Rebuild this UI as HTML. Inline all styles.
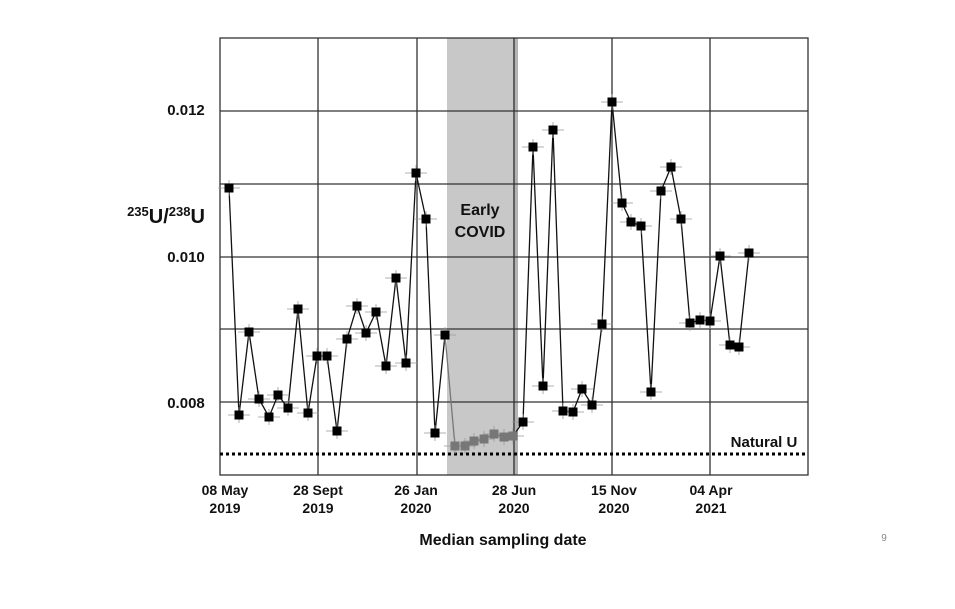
<!DOCTYPE html>
<html><head><meta charset="utf-8"><style>
body{margin:0;background:#fff;}
svg{display:block;font-family:"Liberation Sans",sans-serif;}
</style></head><body>
<svg id="s" width="955" height="609" xmlns="http://www.w3.org/2000/svg">
<rect x="0" y="0" width="955" height="609" fill="#fff"/>
<rect x="447" y="38" width="67" height="437" fill="#c8c8c8"/>
<rect x="513" y="38" width="5" height="437" fill="#b4b4b4"/>
<g stroke="#333" stroke-width="1.3" fill="none">
<line x1="220" y1="111" x2="808" y2="111"/><line x1="220" y1="184" x2="808" y2="184"/>
<line x1="220" y1="257" x2="808" y2="257"/><line x1="220" y1="329" x2="808" y2="329"/>
<line x1="220" y1="402" x2="808" y2="402"/>
<line x1="318" y1="38" x2="318" y2="475"/><line x1="417" y1="38" x2="417" y2="475"/>
<line x1="514" y1="38" x2="514" y2="475"/><line x1="612" y1="38" x2="612" y2="475"/>
<line x1="710" y1="38" x2="710" y2="475"/>
<rect x="220" y="38" width="588" height="437"/>
</g>
<line x1="220" y1="454" x2="808" y2="454" stroke="#000" stroke-width="3" stroke-dasharray="3,3"/>
<g id="d"></g>
<g font-weight="bold" font-size="14" fill="#111" text-anchor="middle">
<text x="186" y="115" font-size="15">0.012</text><text x="186" y="262" font-size="15">0.010</text><text x="186" y="408" font-size="15">0.008</text>
<text x="166" y="223" font-size="20"><tspan font-size="13" dy="-7">235</tspan><tspan dy="7">U/</tspan><tspan font-size="13" dy="-7">238</tspan><tspan dy="7">U</tspan></text>
<text x="480" y="215" font-size="16">Early</text><text x="480" y="237" font-size="16">COVID</text>
<text x="764" y="447" font-size="15">Natural U</text>
<text x="225" y="495">08 May</text><text x="225" y="513">2019</text>
<text x="318" y="495">28 Sept</text><text x="318" y="513">2019</text>
<text x="416" y="495">26 Jan</text><text x="416" y="513">2020</text>
<text x="514" y="495">28 Jun</text><text x="514" y="513">2020</text>
<text x="614" y="495">15 Nov</text><text x="614" y="513">2020</text>
<text x="711" y="495">04 Apr</text><text x="711" y="513">2021</text>
<text x="503" y="545" font-size="16">Median sampling date</text>
</g>
<text x="884" y="541" font-size="10" fill="#888" text-anchor="middle">9</text>
</svg>
<script>
var b=[[229,188],[239,415],[249,332],[259,399],[269,417],[278,395],[288,408],[298,309],[308,413],[317,356],[327,356],[337,431],[347,339],[357,306],[366,333],[376,312],[386,366],[396,278],[406,363],[416,173],[426,219],[435,433],[445,335]];
var g=[[455,446],[465,446],[474,441],[484,439],[494,434],[504,437],[513,436]];
var c=[[523,422],[533,147],[543,386],[553,130],[563,411],[573,412],[582,389],[592,405],[602,324],[612,102],[622,203],[631,222],[641,226],[651,392],[661,191],[671,167],[681,219],[690,323],[700,320],[710,321],[720,256],[730,345],[739,347],[749,253]];
var h='';
function pl(a,col){return '<polyline fill="none" stroke="'+col+'" stroke-width="1.3" points="'+a.map(p=>p.join(',')).join(' ')+'"/>';}
h+=pl(b,'#111');h+=pl([b[b.length-1]].concat(g),'#777');h+=pl([g[g.length-1]].concat(c),'#111');
function eb(a){a.forEach(p=>{h+='<path d="M'+(p[0]-11)+' '+p[1]+'H'+(p[0]+11)+'M'+p[0]+' '+(p[1]-8)+'V'+(p[1]+8)+'" stroke="#999" stroke-width="0.8"/>';});}
eb(b);eb(g);eb(c);
function sq(a,col){a.forEach(p=>{h+='<rect x="'+(p[0]-4.5)+'" y="'+(p[1]-4.5)+'" width="9" height="9" fill="'+col+'"/>';});}
sq(b,'#000');sq(g,'#777');sq(c,'#000');
document.getElementById('d').innerHTML=h;
</script>
</body></html>
